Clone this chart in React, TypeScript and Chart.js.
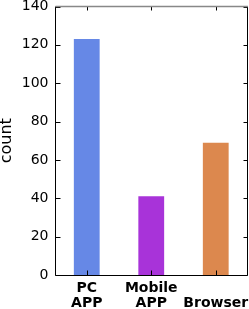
import React, { useEffect, useRef } from "react";
import { Chart, registerables } from "chart.js";

Chart.register(...registerables);

const categories: string[][] = [["PC", "APP"], ["Mobile", "APP"], ["", "Browser"]];
const counts: number[] = [123, 41, 69];
const barColors: string[] = ["#6688e6", "#a833d9", "#dc884e"];
const yMin = 0;
const yMax = 140;
const yStep = 20;
const yTitle = "count";

const framePlugin = {
  id: "mplFrame",
  afterDraw(chart: any) {
    const { ctx, chartArea } = chart;
    const xs = chart.scales.x;
    const ys = chart.scales.y;
    const L = Math.round(chartArea.left) + 0.5;
    const R = Math.round(chartArea.right) - 0.5;
    const T = chartArea.top;
    const B = Math.round(chartArea.bottom) + 0.5;
    ctx.save();
    ctx.strokeStyle = "#000";
    ctx.lineWidth = 1;
    ctx.beginPath();
    ys.ticks.forEach((t: any) => {
      const y = Math.round(ys.getPixelForValue(t.value)) + 0.5;
      ctx.moveTo(L, y);
      ctx.lineTo(L + 5, y);
      ctx.moveTo(R, y);
      ctx.lineTo(R - 4, y);
    });
    xs.ticks.forEach((_t: any, i: number) => {
      const x = Math.round(xs.getPixelForTick(i)) + 0.5;
      ctx.moveTo(x, B);
      ctx.lineTo(x, B - 5);
      ctx.moveTo(x, T);
      ctx.lineTo(x, T + 4);
    });
    ctx.stroke();
    ctx.beginPath();
    ctx.moveTo(L, T);
    ctx.lineTo(L, B);
    ctx.lineTo(R, B);
    ctx.lineTo(R, T);
    ctx.stroke();
    ctx.beginPath();
    ctx.strokeStyle = "#888";
    ctx.lineWidth = 1.6;
    ctx.moveTo(L, T);
    ctx.lineTo(R + 0.5, T);
    ctx.stroke();
    ctx.restore();
  },
};

export default function App() {
  const ref = useRef<HTMLCanvasElement | null>(null);
  useEffect(() => {
    if (!ref.current) return;
    const chart = new Chart(ref.current, {
      type: "bar",
      data: {
        labels: categories,
        datasets: [
          {
            data: counts,
            backgroundColor: barColors,
            borderWidth: 0,
            barPercentage: 0.4,
            categoryPercentage: 1,
          },
        ],
      },
      options: {
        responsive: false,
        animation: false,
        devicePixelRatio: 1,
        layout: { padding: { top: 6.5, right: 1, left: 0, bottom: 0 } },
        plugins: { legend: { display: false }, tooltip: { enabled: false } },
        scales: {
          x: {
            offset: true,
            grid: { display: false, drawTicks: false },
            border: { display: false },
            ticks: {
              color: "#000",
              padding: 6,
              maxRotation: 0,
              autoSkip: false,
              font: { family: "DejaVu Sans", size: 14, weight: "bold", lineHeight: 15 / 14 },
            },
            afterFit(s: any) {
              s.height = 34;
              s.paddingLeft = 0;
              s.paddingRight = 0;
            },
          },
          y: {
            min: yMin,
            max: yMax,
            grid: { display: false, drawTicks: false },
            border: { display: false },
            ticks: {
              stepSize: yStep,
              color: "#000",
              padding: 6,
              font: { family: "DejaVu Sans", size: 14, lineHeight: 1.0 },
            },
            title: {
              display: true,
              text: yTitle,
              color: "#000",
              padding: 0,
              font: { family: "DejaVu Sans", size: 16, lineHeight: 0.9 },
            },
            afterFit(s: any) {
              s.width = 54.5;
              s.paddingTop = 0;
              s.paddingBottom = 0;
            },
          },
        },
      },
      plugins: [framePlugin],
    });
    return () => chart.destroy();
  }, []);
  return (
    <div style={{ position: "absolute", left: 0, top: 0, width: 249, height: 309 }}>
      <canvas ref={ref} width={249} height={309} />
    </div>
  );
}
